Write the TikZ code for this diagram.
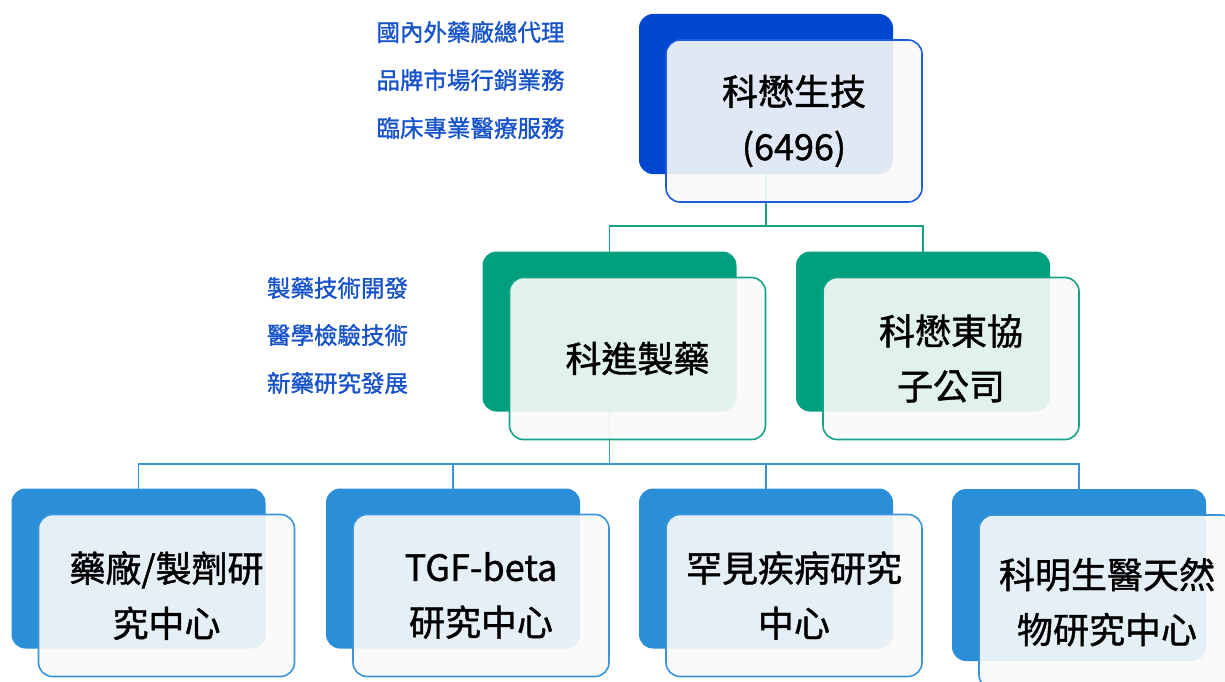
\documentclass[tikz,border=0pt]{standalone}
\usepackage{fontspec}
\setmainfont{Noto Sans CJK TC}
\newfontfamily\medfont[FakeBold=1.2]{Noto Sans CJK TC}
\usetikzlibrary{positioning}
\definecolor{topblue}{HTML}{0047CF}
\definecolor{topline}{HTML}{1D5BD8}
\definecolor{midgreen}{HTML}{00A07F}
\definecolor{midline}{HTML}{16A286}
\definecolor{lowblue}{HTML}{2A8FD7}
\definecolor{lowline}{HTML}{3A95D8}
\definecolor{noteblue}{HTML}{1652CA}
\begin{document}
\begin{tikzpicture}[x=1pt,y=-1pt,
    backbox/.style={rounded corners=14pt, minimum width=254pt, minimum height=160pt, inner sep=0pt},
    frontbox/.style={draw, line width=1.6pt, fill=black!2, fill opacity=0.9, text opacity=1, rounded corners=14pt,
      minimum width=256pt, minimum height=162pt, inner sep=0pt, align=center, font=\medfont\fontsize{36}{55}\selectfont},
    note/.style={text=noteblue, font=\medfont\fontsize{23.5}{23.5}\selectfont}
    ]
    \useasboundingbox (0,0) rectangle (1225,682);
    % back boxes
    \node [backbox, fill=topblue] (top-b) at (766, 94) {};
    \node [backbox, fill=midgreen] (kejin-b) at (609.5, 331.5) {};
    \node [backbox, fill=midgreen] (dongxie-b) at (923, 331.5) {};
    \node [backbox, fill=lowblue] (lab1-b) at (138.5, 568.5) {};
    \node [backbox, fill=lowblue] (lab2-b) at (453, 568.5) {};
    \node [backbox, fill=lowblue] (lab3-b) at (766, 568.5) {};
    \node [backbox, fill=lowblue, minimum height=172pt] (lab4-b) at (1079, 575) {};

    % connectors
    \coordinate (j1) at (766, 226);
    \coordinate (j2) at (609.5, 464);
    \draw [midline, line width=1.6pt] (top-b.south) -- (j1);
    \draw [midline, line width=1.6pt] ([yshift=-2pt]kejin-b.north) |- (j1) -| ([yshift=-2pt]dongxie-b.north);
    \draw [lowline, line width=1.6pt] (kejin-b.south) -- (j2);
    \draw [lowline, line width=1.6pt] ([yshift=-2pt]lab1-b.north) |- (j2) -| ([yshift=-2pt]lab4-b.north);
    \draw [lowline, line width=1.6pt] ([yshift=-2pt]lab2-b.north) -- (lab2-b.north |- j2);
    \draw [lowline, line width=1.6pt] ([yshift=-2pt]lab3-b.north) -- (lab3-b.north |- j2);

    % front boxes
    \node [frontbox, draw=topline] (top) at ([shift={(28,27)}]top-b.center) {科懋生技\\(6496)};
    \node [frontbox, draw=midline] (kejin) at ([shift={(28,27)}]kejin-b.center) {科進製藥};
    \node [frontbox, draw=midline] (dongxie) at ([shift={(28,27)}]dongxie-b.center) {科懋東協\\子公司};
    \node [frontbox, draw=lowline] (lab1) at ([shift={(28,27)}]lab1-b.center) {藥廠/製劑研\\究中心};
    \node [frontbox, draw=lowline] (lab2) at ([shift={(28,27)}]lab2-b.center) {TGF-beta\\研究中心};
    \node [frontbox, draw=lowline] (lab3) at ([shift={(28,27)}]lab3-b.center) {罕見疾病研究\\中心};
    \node [frontbox, draw=lowline, minimum height=174pt] (lab4) at ([shift={(28,27)}]lab4-b.center) {科明生醫天然\\物研究中心};

    % side notes
    \node [note] (n1) at (470.5, 32) {國內外藥廠總代理};
    \node [note] (n2) at (470.5, 80) {品牌市場行銷業務};
    \node [note] (n3) at (470.5, 128) {臨床專業醫療服務};
    \node [note] (n4) at (337.5, 288) {製藥技術開發};
    \node [note] (n5) at (337.5, 335) {醫學檢驗技術};
    \node [note] (n6) at (337.5, 383) {新藥研究發展};
\end{tikzpicture}
\end{document}
